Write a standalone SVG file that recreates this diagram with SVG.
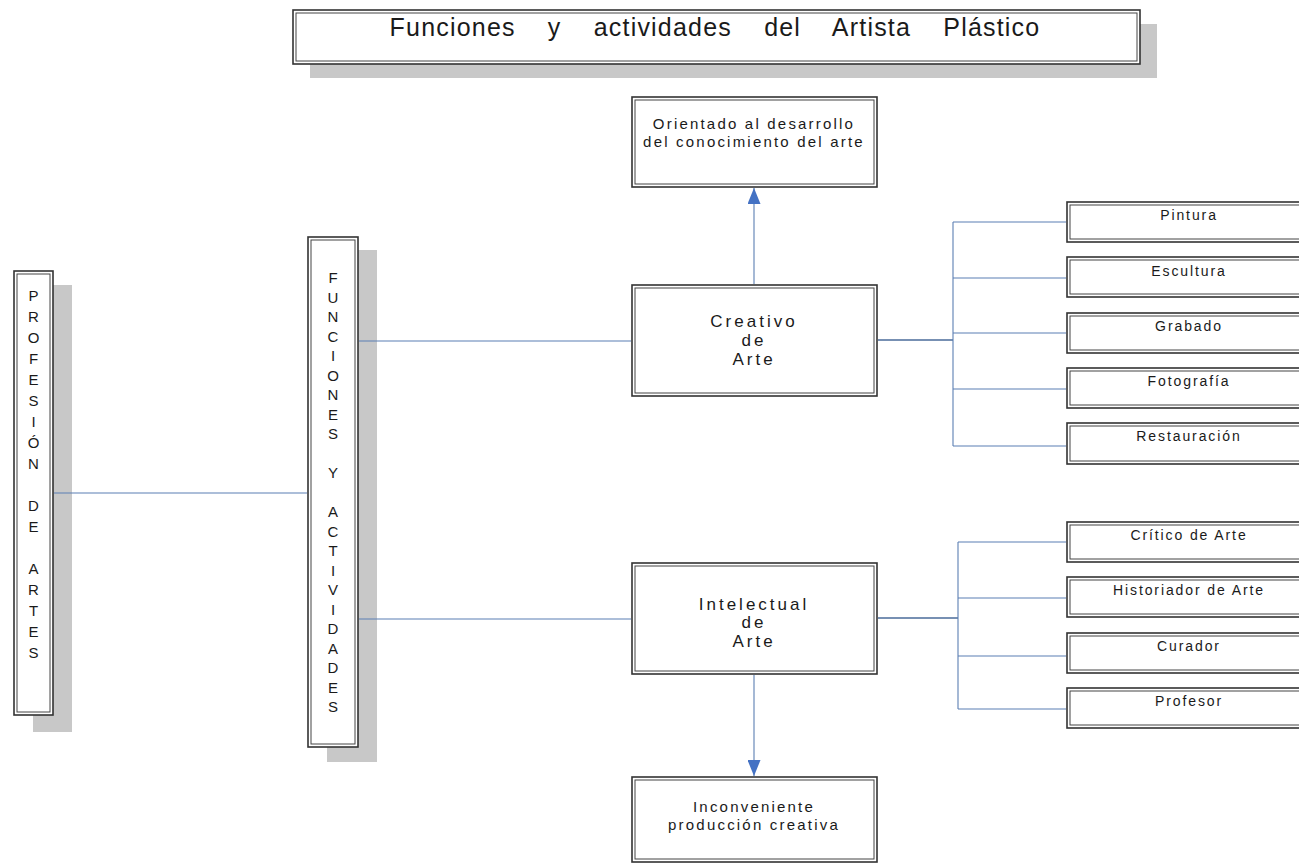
<svg xmlns="http://www.w3.org/2000/svg" width="1299" height="866" viewBox="0 0 1299 866">
<defs>
<style>
.o{fill:#fff;stroke:#333;stroke-width:1.6}
.i{fill:none;stroke:#444;stroke-width:1}
.sh{fill:#c8c8c8}
.c{fill:none;stroke:#5b7fb3;stroke-width:1.1}
.tr{stroke-width:1.6;stroke:#4a6b9a}
.t{font-family:"Liberation Sans",Arial,sans-serif;fill:#1a1a1a;text-anchor:middle}
.title{font-size:25px;letter-spacing:1.2px;word-spacing:24px}
.v{font-size:15px}
.m{font-size:17px;letter-spacing:3px}
.s{font-size:15px;letter-spacing:2.2px}
.k{font-size:14px;letter-spacing:1.9px}
</style>
<marker id="ah" viewBox="0 0 16 13" refX="16" refY="6.5" markerWidth="16" markerHeight="13" markerUnits="userSpaceOnUse" orient="auto">
<path d="M0 0 L16 6.5 L0 13 Z" fill="#4472c4"/>
</marker>
</defs>
<rect width="1299" height="866" fill="#fff"/>

<g id="title">
<rect class="sh" x="310" y="24" width="847" height="54"/>
<rect class="o" x="293" y="10" width="847" height="54"/>
<rect class="i" x="296" y="13" width="841" height="48"/>
<text class="t title" x="715" y="36">Funciones y actividades del Artista Plástico</text>
</g>

<g id="profesion">
<rect class="sh" x="33" y="285" width="39" height="447"/>
<rect class="o" x="14" y="271" width="39" height="444"/>
<rect class="i" x="17" y="274" width="33" height="438"/>
<text class="t v">
<tspan x="33.5" y="301">P</tspan><tspan x="33.5" y="322">R</tspan><tspan x="33.5" y="343">O</tspan><tspan x="33.5" y="364">F</tspan><tspan x="33.5" y="385">E</tspan><tspan x="33.5" y="406">S</tspan><tspan x="33.5" y="427">I</tspan><tspan x="33.5" y="448">Ó</tspan><tspan x="33.5" y="469">N</tspan><tspan x="33.5" y="511">D</tspan><tspan x="33.5" y="532">E</tspan><tspan x="33.5" y="574">A</tspan><tspan x="33.5" y="595">R</tspan><tspan x="33.5" y="616">T</tspan><tspan x="33.5" y="637">E</tspan><tspan x="33.5" y="658">S</tspan>
</text>
</g>

<g id="funciones">
<rect class="sh" x="327" y="250" width="50" height="512"/>
<rect class="o" x="308" y="237" width="50" height="510"/>
<rect class="i" x="311" y="240" width="44" height="504"/>
<text class="t v">
<tspan x="333" y="283">F</tspan><tspan x="333" y="302.5">U</tspan><tspan x="333" y="322">N</tspan><tspan x="333" y="341.5">C</tspan><tspan x="333" y="361">I</tspan><tspan x="333" y="380.5">O</tspan><tspan x="333" y="400">N</tspan><tspan x="333" y="419.5">E</tspan><tspan x="333" y="439">S</tspan><tspan x="333" y="478">Y</tspan><tspan x="333" y="517">A</tspan><tspan x="333" y="536.5">C</tspan><tspan x="333" y="556">T</tspan><tspan x="333" y="575.5">I</tspan><tspan x="333" y="595">V</tspan><tspan x="333" y="614.5">I</tspan><tspan x="333" y="634">D</tspan><tspan x="333" y="653.5">A</tspan><tspan x="333" y="673">D</tspan><tspan x="333" y="692.5">E</tspan><tspan x="333" y="712">S</tspan>
</text>
</g>

<g id="orientado">
<rect class="o" x="632" y="97" width="245" height="90"/>
<rect class="i" x="635" y="100" width="239" height="84"/>
<text class="t s" x="754" y="129">Orientado al desarrollo</text>
<text class="t s" x="754" y="147">del conocimiento del arte</text>
</g>

<g id="creativo">
<rect class="o" x="632" y="285" width="245" height="111"/>
<rect class="i" x="635" y="288" width="239" height="105"/>
<text class="t m" x="754" y="327">Creativo</text>
<text class="t m" x="754" y="346">de</text>
<text class="t m" x="754" y="365">Arte</text>
</g>

<g id="intelectual">
<rect class="o" x="632" y="563" width="245" height="111"/>
<rect class="i" x="635" y="566" width="239" height="105"/>
<text class="t m" x="754" y="610">Intelectual</text>
<text class="t m" x="754" y="628">de</text>
<text class="t m" x="754" y="647">Arte</text>
</g>

<g id="inconveniente">
<rect class="o" x="632" y="777" width="245" height="85"/>
<rect class="i" x="635" y="780" width="239" height="79"/>
<text class="t s" x="754" y="812">Inconveniente</text>
<text class="t s" x="754" y="830">producción creativa</text>
</g>

<g id="pintura">
<rect class="o" x="1067" y="202" width="250" height="40"/>
<rect class="i" x="1070" y="205" width="244" height="34"/>
<text class="t k" x="1189" y="220">Pintura</text>
</g>
<g id="escultura">
<rect class="o" x="1067" y="257" width="250" height="40"/>
<rect class="i" x="1070" y="260" width="244" height="34"/>
<text class="t k" x="1189" y="276">Escultura</text>
</g>
<g id="grabado">
<rect class="o" x="1067" y="313" width="250" height="40"/>
<rect class="i" x="1070" y="316" width="244" height="34"/>
<text class="t k" x="1189" y="331">Grabado</text>
</g>
<g id="fotografia">
<rect class="o" x="1067" y="368" width="250" height="40"/>
<rect class="i" x="1070" y="371" width="244" height="34"/>
<text class="t k" x="1189" y="386">Fotografía</text>
</g>
<g id="restauracion">
<rect class="o" x="1067" y="423" width="250" height="41"/>
<rect class="i" x="1070" y="426" width="244" height="35"/>
<text class="t k" x="1189" y="441">Restauración</text>
</g>

<g id="critico">
<rect class="o" x="1067" y="522" width="250" height="40"/>
<rect class="i" x="1070" y="525" width="244" height="34"/>
<text class="t k" x="1189" y="540">Crítico de Arte</text>
</g>
<g id="historiador">
<rect class="o" x="1067" y="577" width="250" height="40"/>
<rect class="i" x="1070" y="580" width="244" height="34"/>
<text class="t k" x="1189" y="595">Historiador de Arte</text>
</g>
<g id="curador">
<rect class="o" x="1067" y="633" width="250" height="40"/>
<rect class="i" x="1070" y="636" width="244" height="34"/>
<text class="t k" x="1189" y="651">Curador</text>
</g>
<g id="profesor">
<rect class="o" x="1067" y="688" width="250" height="40"/>
<rect class="i" x="1070" y="691" width="244" height="34"/>
<text class="t k" x="1189" y="706">Profesor</text>
</g>

<g id="connectors">
<line class="c" x1="54" y1="493" x2="307" y2="493"/>
<line class="c" x1="359" y1="341" x2="631" y2="341"/>
<line class="c" x1="359" y1="619" x2="631" y2="619"/>
<line class="c" x1="754" y1="284" x2="754" y2="188" marker-end="url(#ah)"/>
<line class="c" x1="754" y1="675" x2="754" y2="776" marker-end="url(#ah)"/>
<line class="c tr" x1="878" y1="340" x2="953" y2="340"/>
<line class="c" x1="953" y1="222" x2="953" y2="446"/>
<line class="c" x1="953" y1="222" x2="1066" y2="222"/>
<line class="c" x1="953" y1="278" x2="1066" y2="278"/>
<line class="c" x1="953" y1="333" x2="1066" y2="333"/>
<line class="c" x1="953" y1="389" x2="1066" y2="389"/>
<line class="c" x1="953" y1="446" x2="1066" y2="446"/>
<line class="c tr" x1="878" y1="618" x2="958" y2="618"/>
<line class="c" x1="958" y1="542" x2="958" y2="709"/>
<line class="c" x1="958" y1="542" x2="1066" y2="542"/>
<line class="c" x1="958" y1="598" x2="1066" y2="598"/>
<line class="c" x1="958" y1="656" x2="1066" y2="656"/>
<line class="c" x1="958" y1="709" x2="1066" y2="709"/>
</g>
</svg>
